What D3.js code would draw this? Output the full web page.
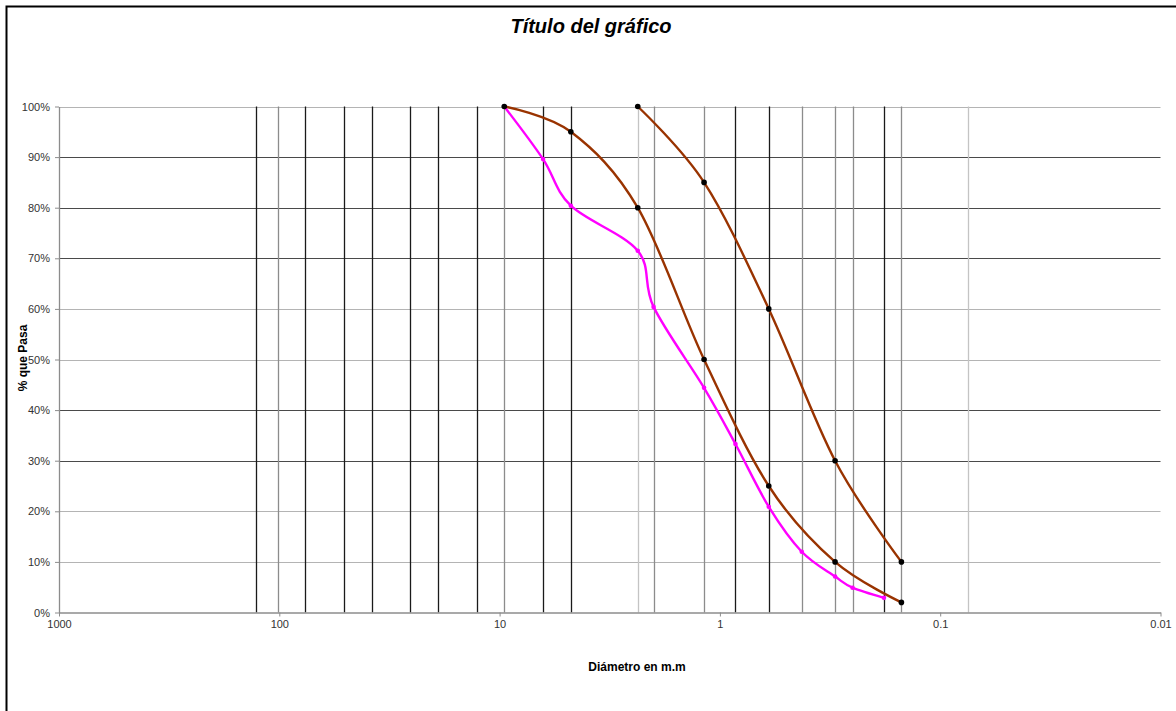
<!DOCTYPE html>
<html>
<head>
<meta charset="utf-8">
<script src="https://cdn.jsdelivr.net/npm/d3@7"></script>
<style>
  html, body { margin: 0; padding: 0; background: #fff; }
  svg { display: block; font-family: Arial, "Liberation Sans", sans-serif; }
</style>
</head>
<body>
<svg id="chart" width="1176" height="711"></svg>
<script>
// ---- data ----
const chartTitle = "Título del gráfico";
const xTitle = "Diámetro en m.m";
const yTitle = "% que Pasa";
const xTickValues = [1000, 100, 10, 1, 0.1, 0.01];
const xTickLabels = ["1000", "100", "10", "1", "0.1", "0.01"];
const yTickValues = [0, 0.1, 0.2, 0.3, 0.4, 0.5, 0.6, 0.7, 0.8, 0.9, 1.0];
const sieveSizes = [127, 101.6, 76.2, 50.8, 38.1, 25.4, 19.05, 12.7, 9.525, 6.35, 4.75,
                    2.36, 2.0, 1.18, 0.85, 0.6, 0.425, 0.3, 0.25, 0.18, 0.15, 0.075];

const lowerLimitSizes = [9.525, 4.75, 2.36, 1.18, 0.6, 0.3, 0.15];
const lowerLimitPass  = [1.00, 0.95, 0.80, 0.50, 0.25, 0.10, 0.02];

const upperLimitSizes = [2.36, 1.18, 0.6, 0.3, 0.15];
const upperLimitPass  = [1.00, 0.85, 0.60, 0.30, 0.10];

const sampleSizes = [9.525, 6.35, 4.75, 2.36, 2.0, 1.18, 0.85, 0.6, 0.425, 0.3, 0.25, 0.18];
const samplePass  = [1.00, 0.896, 0.804, 0.715, 0.604, 0.444, 0.333, 0.209, 0.12, 0.071, 0.049, 0.029];

// ---- layout ----
(function () {
const svg = d3.select("#chart");
const pLeft = 59, pRight = 1160.5, pTop = 106.5, pBottom = 612.5;

const x = d3.scaleLog().domain([1000, 0.01]).range([pLeft, pRight]);
const y = d3.scaleLinear().domain([0, 1]).range([pBottom, pTop]);

// outer chart border (extends beyond the picture)
svg.append("rect").attr("x", 6.5).attr("y", 6.5).attr("width", 1300).attr("height", 900)
  .attr("fill", "none").attr("stroke", "#000").attr("stroke-width", 2);

// title
svg.append("text").attr("x", 591).attr("y", 33).attr("text-anchor", "middle")
  .attr("font-size", 20).attr("font-weight", "bold").attr("font-style", "italic")
  .text(chartTitle);

// horizontal grid lines
const darkH = new Set([0.9, 0.8, 0.7, 0.4, 0.3]);
svg.append("g").selectAll("line").data(yTickValues.filter(v => v > 0)).join("line")
  .attr("x1", pLeft).attr("x2", pRight)
  .attr("y1", d => Math.round(y(d)) + 0.5).attr("y2", d => Math.round(y(d)) + 0.5)
  .attr("stroke", d => darkH.has(Math.round(d * 10) / 10) ? "#4a4a4a" : "#b4b4b4")
  .attr("stroke-width", 1.2);

// vertical grid lines at sieve sizes
const blackV = new Set([127, 76.2, 50.8, 38.1, 25.4, 19.05, 12.7, 6.35, 4.75, 0.85, 0.6, 0.18]);
const lightV = new Set([2.36, 0.075]);
svg.append("g").selectAll("line").data(sieveSizes).join("line")
  .attr("x1", d => Math.round(x(d)) + 0.5).attr("x2", d => Math.round(x(d)) + 0.5)
  .attr("y1", pTop).attr("y2", pBottom)
  .attr("stroke", d => blackV.has(d) ? "#1a1a1a" : (lightV.has(d) ? "#c4c4c4" : "#8c8c8c"))
  .attr("stroke-width", 1.3);

// axes
const xAxis = d3.axisBottom(x).tickValues(xTickValues)
  .tickFormat((d, i) => xTickLabels[i]).tickSize(4).tickSizeOuter(0);
const gx = svg.append("g").attr("transform", `translate(0,${pBottom})`).call(xAxis);
gx.select(".domain").attr("stroke", "#8c8c8c").attr("stroke-width", 1.3);
gx.selectAll(".tick line").attr("stroke", "#8c8c8c");
gx.selectAll(".tick text").attr("font-size", 11).attr("fill", "#333")
  .attr("font-family", "Arial, 'Liberation Sans', sans-serif").attr("dy", "0.95em").attr("y", 5);

const yAxis = d3.axisLeft(y).tickValues(yTickValues)
  .tickFormat(d3.format(".0%")).tickSize(4).tickSizeOuter(0);
const gy = svg.append("g").attr("transform", `translate(${pLeft},0)`).call(yAxis);
gy.select(".domain").attr("stroke", "#8c8c8c").attr("stroke-width", 1.3);
gy.selectAll(".tick line").attr("stroke", "#8c8c8c");
gy.selectAll(".tick text").attr("font-size", 11).attr("fill", "#333")
  .attr("font-family", "Arial, 'Liberation Sans', sans-serif").attr("x", -9);

// axis titles
svg.append("text").attr("x", 637).attr("y", 671).attr("text-anchor", "middle")
  .attr("font-size", 12).attr("font-weight", "bold").text(xTitle);
svg.append("text").attr("transform", "translate(27,358) rotate(-90)")
  .attr("text-anchor", "middle").attr("font-size", 12).attr("font-weight", "bold").text(yTitle);

// series
const line = d3.line().x(d => x(d[0])).y(d => y(d[1])).curve(d3.curveCatmullRom.alpha(0));
const zip = (a, b) => a.map((v, i) => [v, b[i]]);

const series = [
  { pts: zip(sampleSizes, samplePass), color: "#ff00ff", marker: "#ff00ff", r: 2.3 },
  { pts: zip(lowerLimitSizes, lowerLimitPass), color: "#993300", marker: "#000", r: 2.8 },
  { pts: zip(upperLimitSizes, upperLimitPass), color: "#993300", marker: "#000", r: 2.8 }
];

series.forEach(s => {
  svg.append("path").datum(s.pts).attr("d", line)
    .attr("fill", "none").attr("stroke", s.color).attr("stroke-width", 2.4);
  svg.append("g").selectAll("circle").data(s.pts).join("circle")
    .attr("cx", d => x(d[0])).attr("cy", d => y(d[1])).attr("r", s.r).attr("fill", s.marker);
});
})();
</script>
</body>
</html>
